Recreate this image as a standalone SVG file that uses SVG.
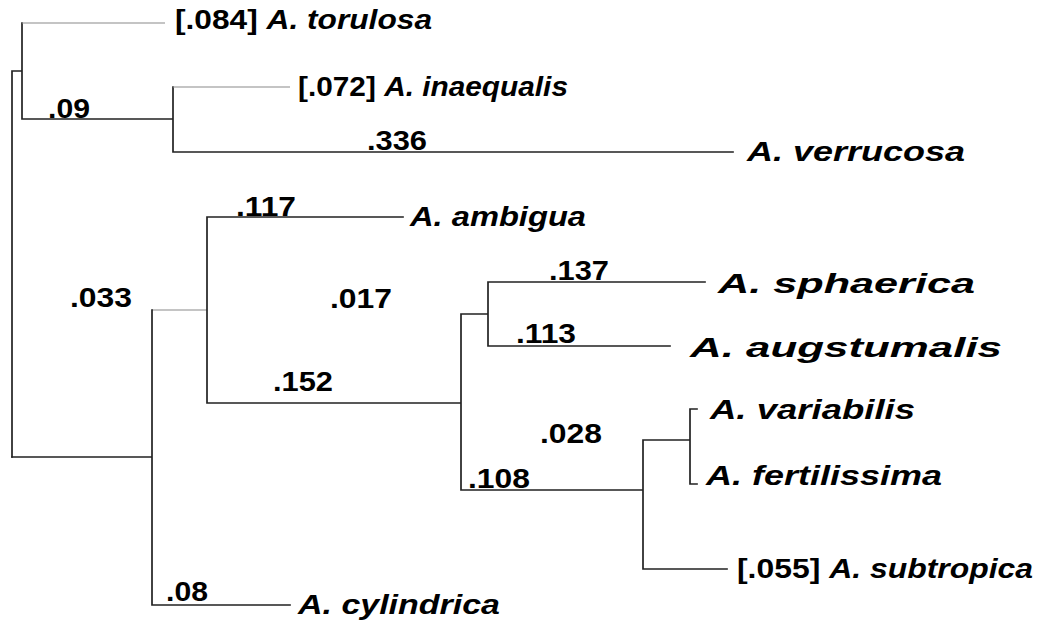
<svg xmlns="http://www.w3.org/2000/svg" width="1040" height="622" viewBox="0 0 1040 622">
<style>
.b{stroke:#222;stroke-width:1.7;fill:none;stroke-linecap:square}
.g{stroke:#8a8a8a;stroke-width:1.2;fill:none}
text{font-family:"Liberation Sans",Arial,sans-serif;font-weight:bold;font-size:27px;fill:#000}
.i{font-style:italic}
</style>
<rect width="1040" height="622" fill="#fff"/>
<g id="connectors">
<path class="b" d="M12,71V457M12,71H22M22,23V119M22,119H173M173,87V152M173,152H733"/>
<path class="g" d="M22,23H165M173,87H290M152,310H207"/>
<path class="b" d="M12,457H152M152,310V605M152,605H290M207,217V403M207,217H403M207,403H461M461,314V490M461,314H488M488,282V346M488,282H705M488,346H670M461,490H643M643,440V569M643,440H690M690,409V484M690,409H697M690,484H697M643,569H727"/>
</g>
<g id="labels">
<text x="48" y="118" textLength="42" lengthAdjust="spacingAndGlyphs">.09</text>
<text x="367" y="150" textLength="60" lengthAdjust="spacingAndGlyphs">.336</text>
<text x="236" y="216" textLength="60" lengthAdjust="spacingAndGlyphs">.117</text>
<text x="70" y="307" textLength="62" lengthAdjust="spacingAndGlyphs">.033</text>
<text x="330" y="308" textLength="62" lengthAdjust="spacingAndGlyphs">.017</text>
<text x="549" y="280" textLength="60" lengthAdjust="spacingAndGlyphs">.137</text>
<text x="516" y="343" textLength="60" lengthAdjust="spacingAndGlyphs">.113</text>
<text x="273" y="391" textLength="60" lengthAdjust="spacingAndGlyphs">.152</text>
<text x="540" y="443" textLength="62" lengthAdjust="spacingAndGlyphs">.028</text>
<text x="468" y="488" textLength="62" lengthAdjust="spacingAndGlyphs">.108</text>
<text x="166" y="601" textLength="42" lengthAdjust="spacingAndGlyphs">.08</text>
</g>
<g id="torulosa"><text x="175" y="29" textLength="257" lengthAdjust="spacingAndGlyphs">[.084] <tspan class="i">A. torulosa</tspan></text></g>
<g id="inaequalis"><text x="298" y="96" textLength="270" lengthAdjust="spacingAndGlyphs">[.072] <tspan class="i">A. inaequalis</tspan></text></g>
<g id="verrucosa"><text class="i" x="747" y="161" textLength="218" lengthAdjust="spacingAndGlyphs">A. verrucosa</text></g>
<g id="ambigua"><text class="i" x="410" y="226" textLength="176" lengthAdjust="spacingAndGlyphs">A. ambigua</text></g>
<g id="sphaerica"><text class="i" x="718" y="293" textLength="257" lengthAdjust="spacingAndGlyphs">A. sphaerica</text></g>
<g id="augstumalis"><text class="i" x="690" y="357" textLength="312" lengthAdjust="spacingAndGlyphs">A. augstumalis</text></g>
<g id="variabilis"><text class="i" x="710" y="419" textLength="205" lengthAdjust="spacingAndGlyphs">A. variabilis</text></g>
<g id="fertilissima"><text class="i" x="706" y="485" textLength="236" lengthAdjust="spacingAndGlyphs">A. fertilissima</text></g>
<g id="subtropica"><text x="737" y="578" textLength="296" lengthAdjust="spacingAndGlyphs">[.055] <tspan class="i">A. subtropica</tspan></text></g>
<g id="cylindrica"><text class="i" x="298" y="614" textLength="202" lengthAdjust="spacingAndGlyphs">A. cylindrica</text></g>
</svg>
